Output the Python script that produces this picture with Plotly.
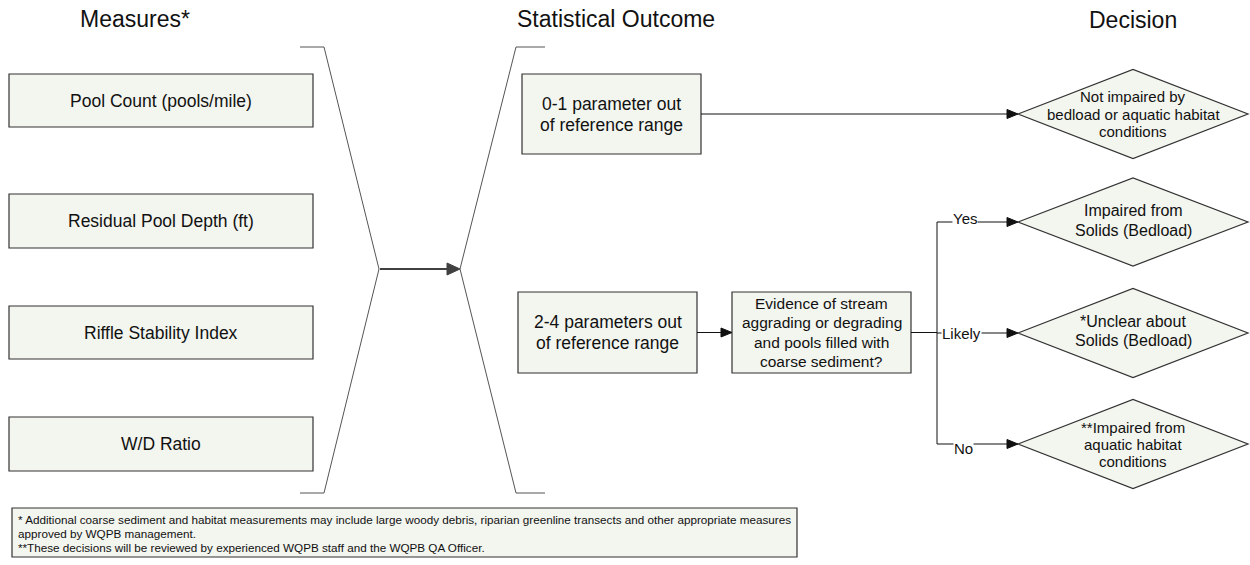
import plotly.graph_objects as go

# ---------------- data (text content) ----------------
column_titles = ["Measures*", "Statistical Outcome", "Decision"]
measures = ["Pool Count (pools/mile)", "Residual Pool Depth (ft)",
            "Riffle Stability Index", "W/D Ratio"]
outcomes = [["0-1 parameter out", "of reference range"],
            ["2-4 parameters out", "of reference range"]]
question = ["Evidence of stream", "aggrading or degrading",
            "and pools filled with", "coarse sediment?"]
decisions = [["Not impaired by", "bedload or aquatic habitat", "conditions"],
             ["Impaired from", "Solids (Bedload)"],
             ["*Unclear about", "Solids (Bedload)"],
             ["**Impaired from", "aquatic habitat", "conditions"]]
branch_labels = ["Yes", "Likely", "No"]
footnote_lines = [
    "* Additional coarse sediment and habitat measurements may include large woody debris, riparian greenline transects and other appropriate measures",
    "approved by WQPB management.",
    "**These decisions will be reviewed by experienced WQPB staff and the WQPB QA Officer.",
]

# ---------------- layout geometry (pixels) ----------------
W, H = 1250, 565
FILL = "#F3F5EF"
EDGE = "#333333"
FONT = "Liberation Sans, Arial, sans-serif"

title_pos = [(135, 19), (616, 19), (1133, 20)]
measure_x = (9, 313)
measure_y = [(74, 127), (194, 248), (306, 359), (417, 471)]
outcome_boxes = [(522, 74, 701, 154), (518, 292, 697, 373)]
question_box = (732, 292, 911, 373)
diamond_cx, diamond_hw = 1133, 115
diamond_cy = [114, 222, 333, 444]
diamond_hh = [44.5, 44, 44.5, 44.5]
diamond_text_dy = [0, -2, -2, 0]
diamond_font = [15, 16, 16, 15]
diamond_spacing = [17.5, 20, 19.5, 17]
branch_x = 937
branch_label_x = [965, 961, 963]
branch_label_dy = [-4, 0, 4]
left_bracket = dict(x_out=300, x_in=324, tip=379, top=47, bot=493, mid=269)
right_bracket = dict(x_out=545, x_in=516, tip=460)
foot_box = (12, 508, 797, 557)
foot_line_y = [519, 533, 547]

shapes = []
annotations = []


def rect(x0, y0, x1, y1):
    shapes.append(dict(type="rect", x0=x0, y0=y0, x1=x1, y1=y1,
                       xref="x", yref="y", fillcolor=FILL,
                       line=dict(color=EDGE, width=1.2), layer="below"))


def text(x, y, s, size, xanchor="center", yanchor="middle", align="center",
         bg=None, family=FONT):
    d = dict(x=x, y=y, xref="x", yref="y", text=s, showarrow=False,
             font=dict(family=family, size=size, color="#111111"),
             xanchor=xanchor, yanchor=yanchor, align=align)
    if bg:
        d.update(bgcolor=bg, borderpad=0)
    annotations.append(d)


def multiline(x, yc, lines, size, spacing):
    n = len(lines)
    for i, s in enumerate(lines):
        text(x, yc + (i - (n - 1) / 2) * spacing, s, size)


def line(x0, y0, x1, y1, color="#111111", width=1):
    shapes.append(dict(type="line", x0=x0, y0=y0, x1=x1, y1=y1,
                       xref="x", yref="y", line=dict(color=color, width=width)))


def arrow_head(xt, yt, length=11, half=4.5, color="#111111"):
    shapes.append(dict(type="path",
                       path=f"M {xt},{yt} L {xt-length},{yt-half} L {xt-length},{yt+half} Z",
                       xref="x", yref="y", fillcolor=color,
                       line=dict(color=color, width=1)))


# titles
for (tx, ty), t in zip(title_pos, column_titles):
    text(tx, ty, t, 23)

# measure boxes
for (y0, y1), lab in zip(measure_y, measures):
    rect(measure_x[0], y0, measure_x[1], y1)
    text((measure_x[0] + measure_x[1]) / 2, (y0 + y1) / 2, lab, 17.5)

# brackets
lb = left_bracket
shapes.append(dict(type="path",
                   path=f"M {lb['x_out']},{lb['top']} L {lb['x_in']},{lb['top']} L {lb['tip']},{lb['mid']} "
                        f"L {lb['x_in']},{lb['bot']} L {lb['x_out']},{lb['bot']}",
                   xref="x", yref="y", line=dict(color="#555555", width=1)))
rb = right_bracket
shapes.append(dict(type="path",
                   path=f"M {rb['x_out']},{lb['top']} L {rb['x_in']},{lb['top']} L {rb['tip']},{lb['mid']} "
                        f"L {rb['x_in']},{lb['bot']} L {rb['x_out']},{lb['bot']}",
                   xref="x", yref="y", line=dict(color="#555555", width=1)))
# main arrow between brackets
line(lb['tip'] + 1, lb['mid'], rb['tip'] - 10, lb['mid'], color="#404040", width=2.2)
arrow_head(rb['tip'], lb['mid'], length=13, half=6, color="#404040")

# outcome boxes
for (x0, y0, x1, y1), lab in zip(outcome_boxes, outcomes):
    rect(x0, y0, x1, y1)
    multiline((x0 + x1) / 2, (y0 + y1) / 2, lab, 17.5, 21)

# question box
qx0, qy0, qx1, qy1 = question_box
rect(qx0, qy0, qx1, qy1)
multiline((qx0 + qx1) / 2, (qy0 + qy1) / 2, question, 15.5, 19.2)

# diamonds
for cy, hh, lab, dy, fs, sp in zip(diamond_cy, diamond_hh, decisions,
                                   diamond_text_dy, diamond_font, diamond_spacing):
    cx = diamond_cx
    shapes.append(dict(type="path",
                       path=f"M {cx-diamond_hw},{cy} L {cx},{cy-hh} L {cx+diamond_hw},{cy} L {cx},{cy+hh} Z",
                       xref="x", yref="y", fillcolor=FILL,
                       line=dict(color=EDGE, width=1.2)))
    multiline(cx, cy + dy, lab, fs, sp)

left_tip = diamond_cx - diamond_hw

# arrow 0-1 box -> decision 1
ox0, oy0, ox1, oy1 = outcome_boxes[0]
line(ox1, diamond_cy[0], left_tip - 8, diamond_cy[0])
arrow_head(left_tip, diamond_cy[0])

# arrow 2-4 box -> question
bx0, by0, bx1, by1 = outcome_boxes[1]
ymid = (by0 + by1) / 2
line(bx1, ymid, qx0 - 8, ymid)
arrow_head(qx0, ymid)

# question -> branch
line(qx1, ymid, branch_x, ymid)
line(branch_x, diamond_cy[1], branch_x, diamond_cy[3])
for cy, lab, lx, dy in zip(diamond_cy[1:], branch_labels, branch_label_x, branch_label_dy):
    line(branch_x, cy, left_tip - 8, cy)
    arrow_head(left_tip, cy)
    text(lx, cy + dy, lab, 15, bg="white")

# footnote
fx0, fy0, fx1, fy1 = foot_box
rect(fx0, fy0, fx1, fy1)
for fy, s in zip(foot_line_y, footnote_lines):
    text(fx0 + 4, fy, s, 11.7, xanchor="left", align="left")

fig = go.Figure()
fig.update_layout(
    width=W, height=H,
    margin=dict(l=0, r=0, t=0, b=0),
    paper_bgcolor="white", plot_bgcolor="white",
    xaxis=dict(range=[0, W], visible=False, fixedrange=True),
    yaxis=dict(range=[H, 0], visible=False, fixedrange=True),
    shapes=shapes, annotations=annotations, showlegend=False,
)
fig.write_html("out.html", config={"displayModeBar": False},
               post_script="document.body.style.margin='0';document.body.style.overflow='hidden';")
